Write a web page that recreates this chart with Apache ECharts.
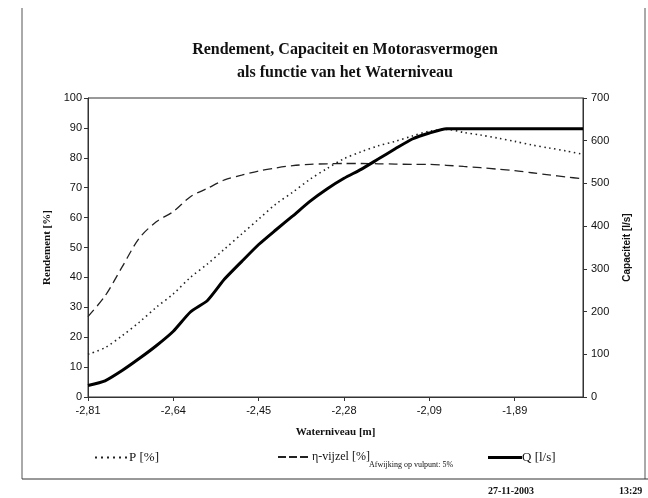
<!DOCTYPE html>
<html><head><meta charset="utf-8">
<script src="https://cdn.jsdelivr.net/npm/echarts@6/dist/echarts.min.js"></script>
<style>html,body{margin:0;padding:0;background:#fff}#c{width:648px;height:498px}</style>
</head><body><div id="c"></div>
<script>
const waterniveau = ["-2,81","-2,78","-2,74","-2,71","-2,67","-2,64","-2,60","-2,56","-2,52","-2,49",
  "-2,45","-2,42","-2,38","-2,35","-2,31","-2,28","-2,24","-2,20","-2,16","-2,13",
  "-2,09","-2,05","-2,01","-1,97","-1,93","-1,89","-1,85","-1,81","-1,77","-1,73"];
const P = [14.3,16.5,20.5,25.0,30.0,34.5,40.0,44.5,49.5,54.5,
  59.5,64.5,68.5,72.8,76.4,79.7,82.0,84.0,85.5,87.3,
  88.9,89.5,88.5,87.6,86.6,85.5,84.3,83.3,82.3,81.2];
const etaVijzel = [26.9,33.8,43.5,53.1,58.6,62.0,67.0,69.8,72.6,74.2,
  75.6,76.6,77.4,77.8,78.0,78.1,78.1,78.0,77.9,77.8,
  77.8,77.5,77.1,76.7,76.2,75.7,75.0,74.3,73.6,73.0];
const Q = [27,38,62,90,120,154,199,226,276,317,
  357,391,424,458,487,512,533,557,581,604,
  618,628,628,628,628,628,628,628,628,628];
const leftTicks = [0,100,10];
const rightTicks = [0,700,100];

const chart = echarts.init(document.getElementById('c'));
const serif = "'Liberation Serif','Times New Roman',serif";
const sans = "'Liberation Sans',Arial,sans-serif";
const dotIcon = 'path://M0,0h2v2h-2z M6,0h2v2h-2z M12,0h2v2h-2z M18,0h2v2h-2z M24,0h2v2h-2z M30,0h2v2h-2z';
const dashIcon = 'path://M0,0h8v2h-8z M11,0h8v2h-8z M22,0h8v2h-8z';
const solidIcon = 'path://M0,0h34v3h-34z';
chart.setOption({
  animation:false,
  backgroundColor:'#fff',
  title:[
    {text:'Rendement, Capaciteit en Motorasvermogen\nals functie van het Waterniveau',left:340,textAlign:'center',top:33,
     textStyle:{fontFamily:serif,fontWeight:'bold',fontSize:16,lineHeight:23,color:'#111'}},
    {text:'Afwijking op vulpunt: 5%',left:364,top:456,textStyle:{fontFamily:serif,fontSize:8,fontWeight:'normal',color:'#111'}},
    {text:'27-11-2003',left:483,top:481,textStyle:{fontFamily:serif,fontSize:10,fontWeight:'bold',color:'#111'}},
    {text:'13:29',left:614,top:481,textStyle:{fontFamily:serif,fontSize:10,fontWeight:'bold',color:'#111'}}
  ],
  legend:[
    {data:[{name:'P [%]',icon:dotIcon}],left:90,top:446,itemWidth:32,itemHeight:2,itemGap:2,
     textStyle:{fontFamily:serif,fontSize:13,color:'#111',padding:[0,0,0,-3]}},
    {data:[{name:'η-vijzel [%]',icon:dashIcon}],left:273,top:446,itemWidth:30,itemHeight:2,
     textStyle:{fontFamily:serif,fontSize:12,color:'#111',padding:[0,0,0,-1]}},
    {data:[{name:'Q [l/s]',icon:solidIcon}],left:483,top:446,itemWidth:34,itemHeight:3,
     textStyle:{fontFamily:serif,fontSize:13,color:'#111',padding:[0,0,0,-5]}}
  ],
  grid:{left:88,right:65,top:98,bottom:101,show:true,borderColor:'#333',borderWidth:1},
  xAxis:{type:'category',data:waterniveau,boundaryGap:false,
    name:'Waterniveau [m]',nameLocation:'middle',nameGap:30,
    nameTextStyle:{fontFamily:serif,fontWeight:'bold',fontSize:11,color:'#111'},
    axisLine:{lineStyle:{color:'#333'}},
    axisTick:{interval:4,length:4,inside:false,lineStyle:{color:'#333'}},
    axisLabel:{interval:4,fontFamily:sans,fontSize:11,color:'#111',margin:8}},
  yAxis:[
    {type:'value',min:leftTicks[0],max:leftTicks[1],interval:leftTicks[2],
     name:'Rendement [%]',nameLocation:'middle',nameGap:35,
     nameTextStyle:{fontFamily:serif,fontWeight:'bold',fontSize:11,color:'#111'},
     axisLine:{show:true,lineStyle:{color:'#333'}},axisTick:{show:true,length:4,lineStyle:{color:'#333'}},
     splitLine:{show:false},axisLabel:{fontFamily:sans,fontSize:11,color:'#111',margin:6}},
    {type:'value',min:rightTicks[0],max:rightTicks[1],interval:rightTicks[2],position:'right',
     name:'Capaciteit [l/s]',nameLocation:'middle',nameGap:39,nameRotate:90,
     nameTextStyle:{fontFamily:sans,fontWeight:'bold',fontSize:10,color:'#111'},
     axisLine:{show:true,lineStyle:{color:'#333'}},axisTick:{show:true,length:4,lineStyle:{color:'#333'}},
     splitLine:{show:false},axisLabel:{fontFamily:sans,fontSize:11,color:'#111',margin:8}}
  ],
  series:[
    {name:'P [%]',type:'line',data:P,yAxisIndex:0,symbol:'none',smooth:0.3,
     lineStyle:{color:'#222',width:1.6,type:[1.5,3.5]},itemStyle:{color:'#222'}},
    {name:'η-vijzel [%]',type:'line',data:etaVijzel,yAxisIndex:0,symbol:'none',smooth:0.3,
     lineStyle:{color:'#222',width:1.3,type:[9,5]},itemStyle:{color:'#222'}},
    {name:'Q [l/s]',type:'line',data:Q,yAxisIndex:1,symbol:'none',smooth:0.2,
     lineStyle:{color:'#000',width:3},itemStyle:{color:'#000'}}
  ],
  graphic:[
    {type:'line',shape:{x1:22,y1:8,x2:22,y2:479},style:{stroke:'#555',lineWidth:1}},
    {type:'line',shape:{x1:645,y1:8,x2:645,y2:479},style:{stroke:'#555',lineWidth:1}},
    {type:'line',shape:{x1:22,y1:479,x2:648,y2:479},style:{stroke:'#333',lineWidth:1}}
  ]
});
</script></body></html>
